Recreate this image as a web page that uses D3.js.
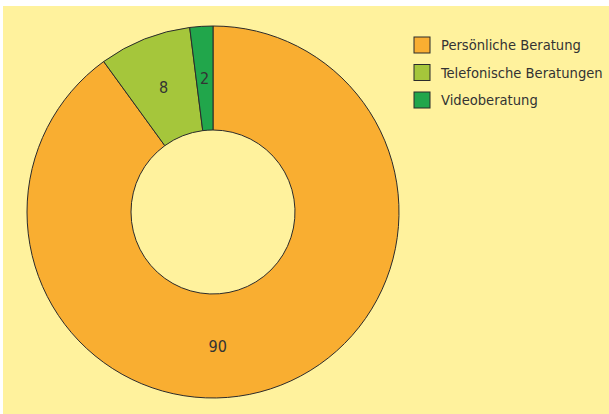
<!DOCTYPE html>
<html>
<head>
<meta charset="utf-8">
<script src="https://cdnjs.cloudflare.com/ajax/libs/d3/7.8.5/d3.min.js"></script>
<style>
    body { margin: 0; background: #fff; }
    svg text { font-family: "Liberation Sans Narrow", "DejaVu Sans Condensed", "Roboto", sans-serif; fill: #333; }
</style>
</head>
<body>
<div id="chart"></div>
<script>
// data
const categories = ['Persönliche Beratung', 'Telefonische Beratungen', 'Videoberatung'];
const values = [90, 8, 2];
const colors = ['#F9AE31', '#A5C63B', '#21A64B'];
// the big label sits near the bottom, not at its centroid (degrees, clockwise from top)
const labelAngles = [178, null, null];

const width = 609, height = 414;
const svg = d3.select('#chart').append('svg')
    .attr('width', width)
    .attr('height', height);

svg.append('rect')
    .attr('x', 3).attr('y', 6)
    .attr('width', width - 3).attr('height', height - 6)
    .attr('fill', '#FFF29D');

let cx = 213, cy = 212, outerR = 186, innerR = 82;

let pie = d3.pie().sort(null).value(d => d);
let arcs = pie(values);
let arc = d3.arc().innerRadius(innerR).outerRadius(outerR);

let g = svg.append('g').attr('transform', 'translate(' + cx + ',' + cy + ')');

g.selectAll('path.slice')
    .data(arcs)
    .enter().append('path')
    .attr('class', 'slice')
    .attr('d', arc)
    .attr('fill', (d, i) => colors[i])
    .attr('stroke', '#2b2b2b')
    .attr('stroke-width', 1);

let labelR = (innerR + outerR) / 2;
g.selectAll('text.val')
    .data(arcs)
    .enter().append('text')
    .attr('class', 'val')
    .attr('text-anchor', 'middle')
    .attr('dy', '0.35em')
    .attr('font-size', 16)
    .attr('transform', (d, i) => {
        let a = labelAngles[i] != null ? labelAngles[i] * Math.PI / 180 : (d.startAngle + d.endAngle) / 2;
        return 'translate(' + (Math.sin(a) * labelR) + ',' + (-Math.cos(a) * labelR) + ')';
    })
    .text(d => d.data);

// legend
let legend = svg.append('g').attr('transform', 'translate(414,37)');
let item = legend.selectAll('g')
    .data(categories)
    .enter().append('g')
    .attr('transform', (d, i) => 'translate(0,' + (i * 27.5) + ')');

item.append('rect')
    .attr('width', 16).attr('height', 16)
    .attr('fill', (d, i) => colors[i])
    .attr('stroke', '#2b2b2b')
    .attr('stroke-width', 1);

item.append('text')
    .attr('x', 27)
    .attr('y', 8)
    .attr('dy', '0.35em')
    .attr('font-size', 14.6)
    .text(d => d);
</script>
</body>
</html>
